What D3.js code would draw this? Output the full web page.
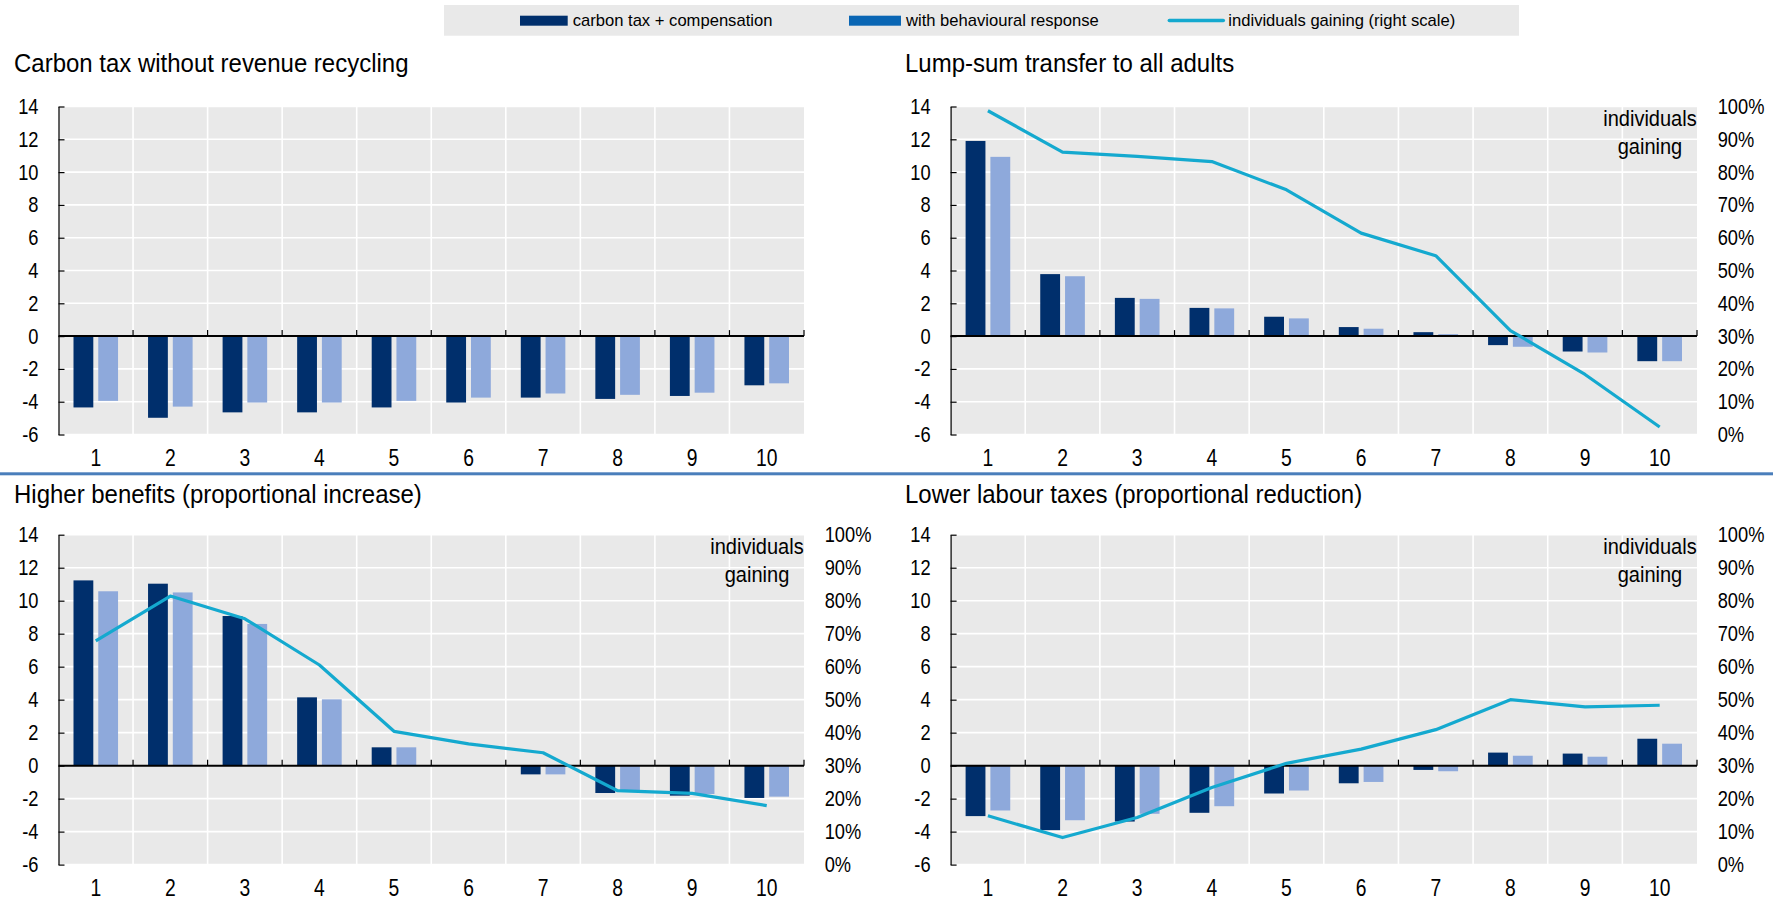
<!DOCTYPE html>
<html><head><meta charset="utf-8">
<script src="https://cdn.jsdelivr.net/npm/d3@7"></script>
<style>
html,body{margin:0;padding:0;background:#fff;}
svg{display:block;}
</style></head>
<body>
<svg id="chart" width="1773" height="901"></svg>
<script>
// ---------- DATA ----------
const categories = ["1","2","3","4","5","6","7","8","9","10"];
const seriesNames = ["carbon tax + compensation", "with behavioural response", "individuals gaining (right scale)"];
const panelTitles = ["Carbon tax without revenue recycling", "Lump-sum transfer to all adults",
                     "Higher benefits (proportional increase)", "Lower labour taxes (proportional reduction)"];
const leftTicks = [-6,-4,-2,0,2,4,6,8,10,12,14];
const rightTicks = [0,10,20,30,40,50,60,70,80,90,100];
const lineLabel = ["individuals", "gaining"];

const noRecyclingTax   = [-4.35,-4.98,-4.65,-4.65,-4.35,-4.05,-3.75,-3.83,-3.65,-3.0];
const noRecyclingBehav = [-3.95,-4.30,-4.05,-4.05,-3.95,-3.75,-3.50,-3.58,-3.45,-2.88];

const lumpSumTax     = [11.9,3.78,2.33,1.72,1.18,0.55,0.24,-0.55,-0.94,-1.53];
const lumpSumBehav   = [10.93,3.65,2.27,1.69,1.08,0.45,0.12,-0.65,-1.0,-1.53];
const lumpSumGaining = [98.7,86.1,84.8,83.2,74.6,61.4,54.5,31.7,18.3,2.3];

const benefitsTax     = [11.23,11.03,9.07,4.14,1.11,0.03,-0.53,-1.66,-1.82,-1.96];
const benefitsBehav   = [10.57,10.5,8.59,4.02,1.11,0.02,-0.53,-1.5,-1.72,-1.88];
const benefitsGaining = [67.8,81.4,74.5,60.5,40.4,36.6,33.9,22.4,21.6,17.9];

const labourTax     = [-3.06,-3.91,-3.39,-2.86,-1.69,-1.07,-0.26,0.79,0.73,1.63];
const labourBehav   = [-2.72,-3.31,-2.92,-2.46,-1.51,-0.99,-0.34,0.6,0.54,1.33];
const labourGaining = [14.8,8.2,14.3,23.4,30.7,35.0,40.9,50.0,47.8,48.3];

// ---------- STYLE ----------
const C_DARK = "#002F6C", C_LIGHT = "#8EA9DB", C_LEG2 = "#0A66B4", C_LINE = "#14A9CF";
const C_BG = "#E9E9E9", C_SEP = "#4A7EBB";
const F_REG = "'Liberation Sans', Arial, sans-serif";

const cols = [{x0:58.5, x1:804, tx:14}, {x0:950.6, x1:1697, tx:905}];
const rows = [{y0:106.5, y1:434.5, ty:71.7}, {y0:534.7, y1:864.6, ty:503.5}];

const panels = [
  {title: panelTitles[0], bars:[noRecyclingTax, noRecyclingBehav], line:null, col:0, row:0},
  {title: panelTitles[1], bars:[lumpSumTax, lumpSumBehav], line:lumpSumGaining, col:1, row:0},
  {title: panelTitles[2], bars:[benefitsTax, benefitsBehav], line:benefitsGaining, col:0, row:1},
  {title: panelTitles[3], bars:[labourTax, labourBehav], line:labourGaining, col:1, row:1},
];

// horizontally condense text (narrow typeface look)
function condense(sel, k) {
  sel.each(function() {
    const t = d3.select(this);
    const x = +t.attr("x") || 0;
    t.attr("x", x / k).attr("transform", `scale(${k},1)`);
    t.selectAll("tspan").each(function() {
      const s = d3.select(this);
      const sx = +s.attr("x") || 0;
      s.attr("x", sx / k);
    });
  });
}

const svg = d3.select("#chart");
svg.append("rect").attr("width",1773).attr("height",901).attr("fill","#fff");

// ---------- LEGEND ----------
const leg = svg.append("g");
leg.append("rect").attr("x",444).attr("y",5).attr("width",1075).attr("height",30.7).attr("fill",C_BG);
const legItems = [
  {name: seriesNames[0], type:"rect", color:C_DARK, sx:520, sw:47.7},
  {name: seriesNames[1], type:"rect", color:C_LEG2, sx:849, sw:52},
  {name: seriesNames[2], type:"line", color:C_LINE, sx:1169.3, sw:54},
];
legItems.forEach(it => {
  if (it.type === "rect") {
    leg.append("rect").attr("x",it.sx).attr("y",15.7).attr("width",it.sw).attr("height",10).attr("fill",it.color);
  } else {
    leg.append("line").attr("x1",it.sx).attr("x2",it.sx+it.sw).attr("y1",20.5).attr("y2",20.5)
      .attr("stroke",it.color).attr("stroke-width",3.5).attr("stroke-linecap","round");
  }
  leg.append("text").attr("x",it.sx+it.sw+5).attr("y",25.8)
    .attr("font-family",F_REG).attr("font-size",16.6).attr("fill","#000").text(it.name);
});

// ---------- SEPARATOR ----------
svg.append("rect").attr("x",0).attr("y",472.3).attr("width",1773).attr("height",3).attr("fill",C_SEP);

// ---------- PANELS ----------
panels.forEach(p => {
  const col = cols[p.col], row = rows[p.row];
  const g = svg.append("g");
  const x = d3.scaleBand().domain(categories).range([col.x0, col.x1]).padding(0);
  const bw = x.bandwidth();
  const xs = d3.scaleBand().domain([0,1]).range([15, bw-15]).paddingInner(0.2);
  const y = d3.scaleLinear().domain([-6,14]).range([row.y1, row.y0]);
  const yR = d3.scaleLinear().domain([0,100]).range([row.y1, row.y0]);

  // title
  g.append("text").attr("x",col.tx).attr("y",row.ty).attr("font-family",F_REG)
    .attr("font-size",26.5).attr("fill","#000").text(p.title).call(condense, 0.905);

  // background
  g.append("rect").attr("x",col.x0).attr("y",row.y0).attr("width",col.x1-col.x0)
    .attr("height",row.y1-row.y0).attr("fill",C_BG);

  // horizontal gridlines
  g.selectAll(".hg").data(leftTicks.filter(t => t!==0)).join("line")
    .attr("x1",col.x0).attr("x2",col.x1).attr("y1",d=>y(d)).attr("y2",d=>y(d))
    .attr("stroke","#fff").attr("stroke-width",1.6);
  // vertical gridlines at band boundaries
  g.selectAll(".vg").data(categories.slice(1)).join("line")
    .attr("x1",d=>x(d)).attr("x2",d=>x(d)).attr("y1",row.y0).attr("y2",row.y1)
    .attr("stroke","#fff").attr("stroke-width",1.6);

  // bars
  p.bars.forEach((arr, si) => {
    g.selectAll(".bar"+si).data(arr).join("rect")
      .attr("x",(d,i)=>x(categories[i]) + xs(si))
      .attr("width",xs.bandwidth())
      .attr("y",d=>y(Math.max(0,d)))
      .attr("height",d=>Math.abs(y(d)-y(0)))
      .attr("fill", si===0 ? C_DARK : C_LIGHT);
  });

  // zero line and boundary ticks
  g.append("line").attr("x1",col.x0).attr("x2",col.x1).attr("y1",y(0)).attr("y2",y(0))
    .attr("stroke","#000").attr("stroke-width",2);
  const bounds = categories.slice(1).map(c => x(c)).concat([col.x1]);
  g.selectAll(".xt").data(bounds).join("line")
    .attr("x1",d=>d).attr("x2",d=>d).attr("y1",y(0)-6).attr("y2",y(0))
    .attr("stroke","#000").attr("stroke-width",1.2);

  // left axis
  const ax = g.append("g").attr("transform",`translate(${col.x0},0)`)
    .call(d3.axisLeft(y).tickValues(leftTicks).tickFormat(d3.format("d"))
      .tickSizeInner(-6).tickSizeOuter(0).tickPadding(20));
  ax.select(".domain").attr("stroke","#000").attr("stroke-width",1.2);
  ax.selectAll(".tick line").attr("stroke","#000").attr("stroke-width",1.2);
  ax.selectAll("text").attr("font-family",F_REG).attr("font-size",22).attr("fill","#000")
    .text(d => d < 0 ? "-" + Math.abs(d) : d).call(condense, 0.83);

  // bottom category labels
  const bx = g.append("g").attr("transform",`translate(0,${row.y1})`)
    .call(d3.axisBottom(x).tickSize(0).tickPadding(14.7));
  bx.select(".domain").remove();
  bx.selectAll("text").attr("font-family",F_REG).attr("font-size",23).attr("fill","#000").call(condense, 0.84);

  if (p.line) {
    const ra = g.append("g").attr("transform",`translate(${col.x1},0)`)
      .call(d3.axisRight(yR).tickValues(rightTicks).tickFormat(d => d + "%").tickSize(0).tickPadding(20.7));
    ra.select(".domain").remove();
    ra.selectAll("text").attr("font-family",F_REG).attr("font-size",22).attr("fill","#000").call(condense, 0.83);

    const line = d3.line().x((d,i)=>x(categories[i]) + bw/2).y(d=>yR(d));
    g.append("path").datum(p.line).attr("d",line).attr("fill","none")
      .attr("stroke",C_LINE).attr("stroke-width",3.2).attr("stroke-linejoin","round");

    const lt = g.append("text").attr("font-family",F_REG).attr("font-size",22)
      .attr("text-anchor","middle").attr("fill","#000");
    lineLabel.forEach((s,i) => lt.append("tspan").attr("x",col.x1-47).attr("y",row.y0+19.5+i*28).text(s));
    lt.call(condense, 0.91);
  }
});
</script>
</body></html>
